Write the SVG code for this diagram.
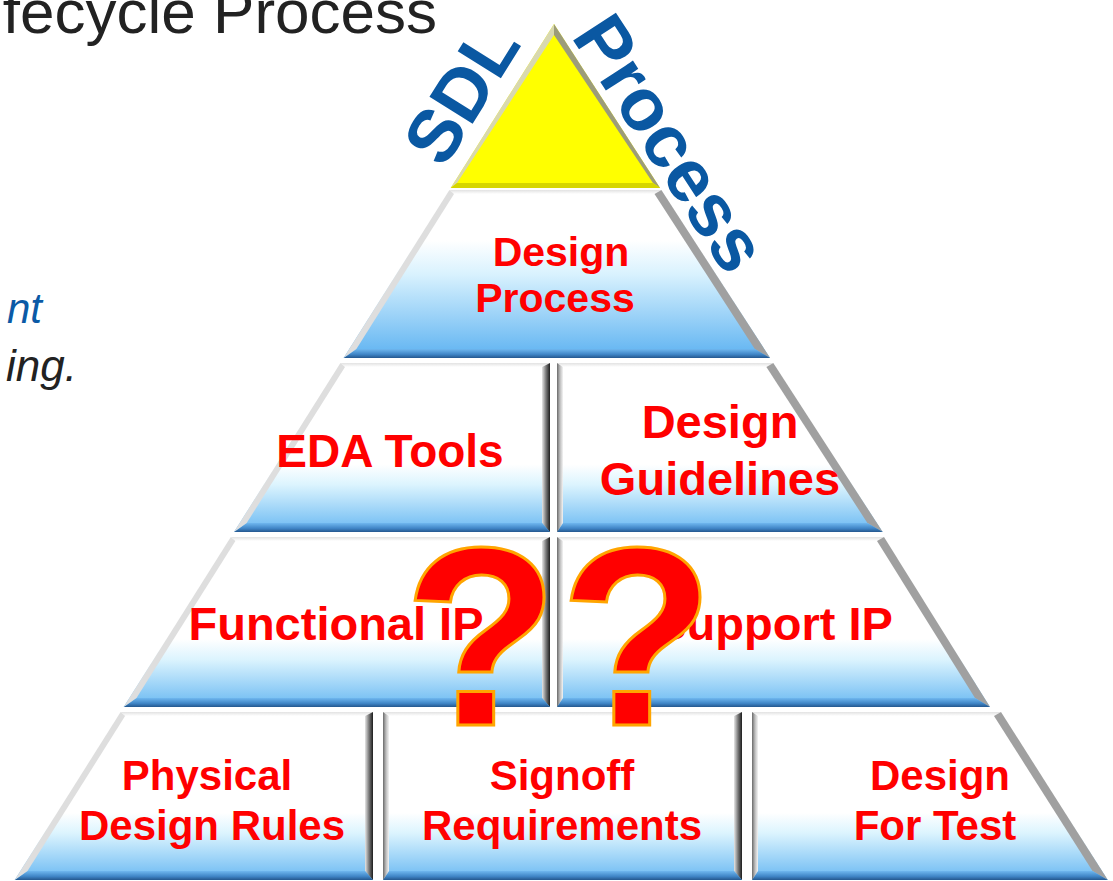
<svg xmlns="http://www.w3.org/2000/svg" width="1113" height="881" viewBox="0 0 1113 881">
<defs>
<style>
.lbl{font-family:"Liberation Sans",Arial,sans-serif;font-weight:bold;fill:#ff0000;text-anchor:middle}
.side{font-family:"Liberation Sans",Arial,sans-serif;font-weight:bold;fill:#0a58a2;text-anchor:middle}
.top{fill:url(#topBev)}
.bot{fill:url(#botBev)}
.rv{fill:url(#rightV)}
.lv{fill:url(#leftV)}
.rs{fill:#a0a0a0}
.ls{fill:#dedede}
.q{font-family:"Liberation Sans",Arial,sans-serif;font-weight:bold;font-size:254px;fill:#ff0000;stroke:#ffa500;stroke-width:3;text-anchor:middle}
</style>
<linearGradient id="g2" x1="0" y1="0" x2="0" y2="1">
<stop offset="0" stop-color="#ffffff"/><stop offset="0.3" stop-color="#ffffff"/><stop offset="0.5" stop-color="#d9f2fe"/><stop offset="1" stop-color="#5db2f1"/>
</linearGradient>
<linearGradient id="g" x1="0" y1="0" x2="0" y2="1">
<stop offset="0" stop-color="#ffffff"/><stop offset="0.6" stop-color="#ffffff"/><stop offset="0.72" stop-color="#dcf4fe"/><stop offset="1" stop-color="#68b8f2"/>
</linearGradient>
<linearGradient id="topBev" x1="0" y1="0" x2="0" y2="1">
<stop offset="0" stop-color="#e2e2e2"/><stop offset="1" stop-color="#ffffff"/>
</linearGradient>
<linearGradient id="botBev" x1="0" y1="0" x2="0" y2="1">
<stop offset="0" stop-color="#6fb7ef"/><stop offset="0.6" stop-color="#3f85c6"/><stop offset="1" stop-color="#24578e"/>
</linearGradient>
<linearGradient id="rightV" x1="0" y1="0" x2="1" y2="0">
<stop offset="0" stop-color="#e6e6e6"/><stop offset="0.5" stop-color="#7a7a7a"/><stop offset="1" stop-color="#1c1c1c"/>
</linearGradient>
<linearGradient id="leftV" x1="0" y1="0" x2="1" y2="0">
<stop offset="0" stop-color="#6a6a6a"/><stop offset="0.5" stop-color="#bdbdbd"/><stop offset="1" stop-color="#f4f4f4"/>
</linearGradient>
</defs>
<rect width="1113" height="881" fill="#ffffff"/>

<g id="fragments" font-family="'Liberation Sans',Arial,sans-serif">
<text x="437" y="33" font-size="62" fill="#222222" text-anchor="end">fecycle Process</text>
<text x="42" y="323" font-size="42" font-style="italic" fill="#0b5aa6" text-anchor="end">nt</text>
<text x="77" y="381" font-size="44" font-style="italic" fill="#222222" text-anchor="end">ing.</text>
</g>

<g id="apex">
<polygon points="554,24 660.1,188 450.7,188" fill="#ffff00"/>
<polygon points="554,24 660.1,188 653,183 554,35" fill="#9c9c7a"/>
<polygon points="554,24 554,35 457,183 450.7,188" fill="#d8d8b0"/>
<polygon points="450.7,188 660.1,188 653,183 457,183" fill="#d6d600"/>
</g>

<g id="sdl-label">
<text class="side" font-size="74" transform="translate(483,107) rotate(-58)">SDL</text>
</g>
<g id="process-label">
<text class="side" font-size="74" transform="translate(649,157) rotate(57)">Process</text>
</g>

<g id="design-process">
<polygon points="449.4,190 661.4,190 770.1,358 343.6,358" fill="url(#g2)"/>
<polygon class="top" points="449.4,190 661.4,190 654.5,194 454,194"/>
<polygon class="rs" points="661.4,190 770.1,358 754.8,349 654.5,194"/>
<polygon class="bot" points="343.6,358 770.1,358 754.8,349 356.4,349"/>
<polygon class="ls" points="449.4,190 454,194 356.4,349 343.6,358"/>
<text class="lbl" font-size="41" x="561" y="266">Design</text>
<text class="lbl" font-size="41" x="555" y="312">Process</text>
</g>

<g id="eda-tools">
<polygon points="340.4,363 550,363 550,532 234,532" fill="url(#g)"/>
<polygon class="top" points="340.4,363 550,363 542,367 345,367"/>
<polygon class="rv" points="542,367 550,363 550,532 542,523"/>
<polygon class="bot" points="234,532 550,532 542,523 246.7,523"/>
<polygon class="ls" points="340.4,363 345,367 246.7,523 234,532"/>
<text class="lbl" font-size="46" x="390" y="467">EDA Tools</text>
</g>

<g id="design-guidelines">
<polygon points="557,363 773.3,363 882.7,532 557,532" fill="url(#g)"/>
<polygon class="top" points="557,363 773.3,363 766.4,367 563,367"/>
<polygon class="rs" points="773.3,363 882.7,532 867.4,523 766.4,367"/>
<polygon class="bot" points="557,532 882.7,532 867.4,523 563,523"/>
<polygon class="lv" points="557,363 563,367 563,523 557,532"/>
<text class="lbl" font-size="47" x="720" y="438">Design</text>
<text class="lbl" font-size="47" x="720" y="495">Guidelines</text>
</g>

<g id="functional-ip">
<polygon points="230.8,537 550,537 550,707 123.7,707" fill="url(#g)"/>
<polygon class="top" points="230.8,537 550,537 542,541 235.4,541"/>
<polygon class="rv" points="542,541 550,537 550,707 542,698"/>
<polygon class="bot" points="123.7,707 550,707 542,698 136.5,698"/>
<polygon class="ls" points="230.8,537 235.4,541 136.5,698 123.7,707"/>
<text class="lbl" font-size="47" x="336" y="640">Functional IP</text>
</g>

<g id="support-ip">
<polygon points="557,537 884,537 990,707 557,707" fill="url(#g)"/>
<polygon class="top" points="557,537 884,537 877,541 563,541"/>
<polygon class="rs" points="884,537 990,707 975,698 877,541"/>
<polygon class="bot" points="557,707 990,707 975,698 563,698"/>
<polygon class="lv" points="557,537 563,541 563,698 557,707"/>
<text class="lbl" font-size="47" x="774" y="640">Support IP</text>
</g>

<g id="physical-design-rules">
<polygon points="120.6,712 373,712 373,880 14.7,880" fill="url(#g)"/>
<polygon class="top" points="120.6,712 373,712 365,716 125.1,716"/>
<polygon class="rv" points="365,716 373,712 373,880 365,871"/>
<polygon class="bot" points="14.7,880 373,880 365,871 27.5,871"/>
<polygon class="ls" points="120.6,712 125.1,716 27.5,871 14.7,880"/>
<text class="lbl" font-size="42" x="207" y="790">Physical</text>
<text class="lbl" font-size="42" x="212" y="840">Design Rules</text>
</g>

<g id="signoff-requirements">
<polygon points="383,712 742,712 742,880 383,880" fill="url(#g)"/>
<polygon class="top" points="383,712 742,712 734,716 389,716"/>
<polygon class="rv" points="734,716 742,712 742,880 734,871"/>
<polygon class="bot" points="383,880 742,880 734,871 389,871"/>
<polygon class="lv" points="383,712 389,716 389,871 383,880"/>
<text class="lbl" font-size="42" x="562" y="790">Signoff</text>
<text class="lbl" font-size="42" x="562" y="840">Requirements</text>
</g>

<g id="design-for-test">
<polygon points="752,712 1001,712 1107.8,880 752,880" fill="url(#g)"/>
<polygon class="top" points="752,712 1001,712 994,716 758,716"/>
<polygon class="rs" points="1001,712 1107.8,880 1092.5,871 994,716"/>
<polygon class="bot" points="752,880 1107.8,880 1092.5,871 758,871"/>
<polygon class="lv" points="752,712 758,716 758,871 752,880"/>
<text class="lbl" font-size="42" x="940" y="790">Design</text>
<text class="lbl" font-size="42" x="935" y="840">For Test</text>
</g>

<g id="question-marks">
<text class="q" x="481" y="725">?</text>
<text class="q" x="637" y="725">?</text>
</g>
</svg>
